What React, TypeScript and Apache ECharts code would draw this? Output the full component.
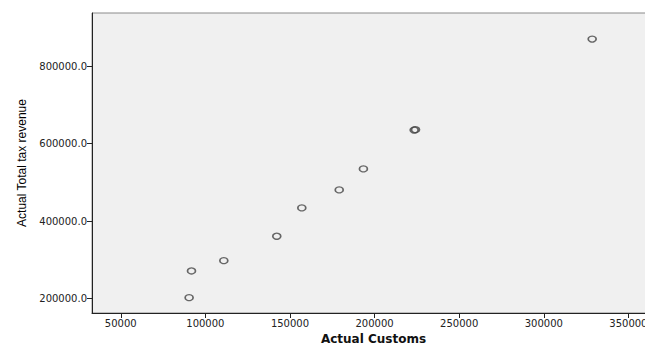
import React, { useEffect, useRef } from "react";
import * as echarts from "echarts";

const customs = [90400, 91800, 110900, 142200, 157000, 179100, 193400, 223400, 224200, 328600];
const totalTax = [202600, 271500, 298100, 361100, 434200, 480600, 534800, 635000, 636000, 869700];
const xTicks = [50000, 100000, 150000, 200000, 250000, 300000, 350000];
const yTicks = [200000, 400000, 600000, 800000];
const xTitle = "Actual Customs";
const yTitle = "Actual Total tax revenue";

export default function App() {
  const ref = useRef<HTMLDivElement>(null);
  useEffect(() => {
    if (!ref.current) return;
    const chart = echarts.init(ref.current, undefined, { renderer: "svg" });
    const labelStyle = { fontFamily: "DejaVu Sans", fontSize: 10, color: "#222" };
    chart.setOption({
      animation: false,
      backgroundColor: "#fff",
      grid: {
        left: 92,
        top: 13,
        right: -2,
        bottom: 31,
        outerBoundsMode: "none",
        containLabel: false,
        show: true,
        backgroundColor: "#f0f0f0",
        borderColor: "#8a8a8a",
        borderWidth: 1,
      },
      xAxis: {
        type: "value",
        min: 33000,
        max: 361000,
        name: xTitle,
        nameLocation: "middle",
        nameGap: 14,
        nameTextStyle: {
          fontFamily: "DejaVu Sans",
          fontSize: 12,
          lineHeight: 12,
          fontWeight: "bold",
          color: "#111",
          padding: [0, 0, 0, 8],
        },
        axisLine: { show: true, onZero: false, lineStyle: { color: "#222", width: 1 } },
        axisTick: { show: true, length: 5, customValues: xTicks, lineStyle: { color: "#222" } },
        axisLabel: { ...labelStyle, margin: 5, customValues: xTicks, formatter: (v: number) => String(v) },
        splitLine: { show: false },
      },
      yAxis: {
        type: "value",
        min: 163000,
        max: 937000,
        name: yTitle,
        nameLocation: "middle",
        nameGap: 64,
        nameTextStyle: {
          fontFamily: "Liberation Sans",
          fontSize: 12,
          color: "#000",
        },
        axisLine: { show: true, onZero: false, lineStyle: { color: "#222", width: 1 } },
        axisTick: { show: true, length: 5, customValues: yTicks, lineStyle: { color: "#222" } },
        axisLabel: { ...labelStyle, margin: 5, customValues: yTicks, formatter: (v: number) => v.toFixed(1) },
        splitLine: { show: false },
      },
      series: [
        {
          type: "scatter",
          data: customs.map((c, i) => [c, totalTax[i]]),
          symbol: "circle",
          symbolSize: [8, 6],
          itemStyle: { color: "rgba(0,0,0,0)", borderColor: "#444", borderWidth: 1.5 },
        },
      ],
    });
    return () => chart.dispose();
  }, []);
  return (
    <div
      ref={ref}
      style={{ position: "fixed", left: 0, top: 0, width: 645, height: 344 }}
    />
  );
}
